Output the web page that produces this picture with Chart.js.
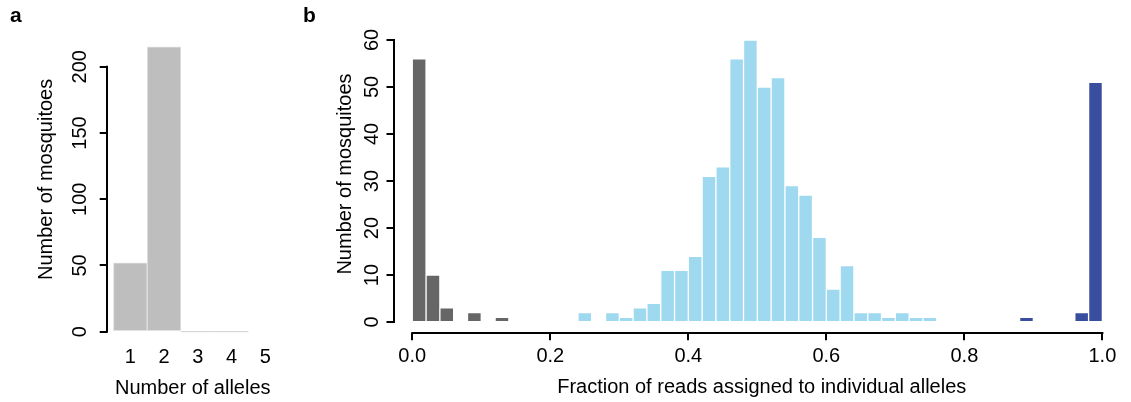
<!DOCTYPE html>
<html>
<head>
<meta charset="utf-8">
<script src="https://cdn.jsdelivr.net/npm/chart.js@4.4.1/dist/chart.umd.min.js"></script>
<style>
  body { margin: 0; background: #fff; }
  #wrap { position: relative; width: 1131px; height: 402px; overflow: hidden; }
  canvas { position: absolute; top: 0; }
  #chartA { left: 0; }
  #chartB { left: 300px; }
  .panel-tag { position: absolute; top: 4px; font: bold 21px "Liberation Sans", Arial, sans-serif; line-height: 21px; color: #000; }
</style>
</head>
<body>
<div id="wrap">
  <canvas id="chartA" width="300" height="402"></canvas>
  <canvas id="chartB" width="831" height="402"></canvas>
  <div class="panel-tag" style="left:10px">a</div>
  <div class="panel-tag" style="left:303px">b</div>
</div>
<script>
// panel a: alleles per mosquito
const alleleCounts = [1, 2, 3, 4, 5];
const mosquitoesPerAllele = [52, 215, 0, 0, null];

// panel b: histogram of read fractions (bin centres, bin width 0.02)
const homBinsLow = [0.01, 0.03, 0.05, 0.09, 0.13];
const homCountsLow = [56, 10, 3, 2, 1];
const hetBins = [0.25, 0.29, 0.31, 0.33, 0.35, 0.37, 0.39, 0.41, 0.43, 0.45, 0.47, 0.49, 0.51,
                 0.53, 0.55, 0.57, 0.59, 0.61, 0.63, 0.65, 0.67, 0.69, 0.71, 0.73, 0.75];
const hetCounts = [2, 2, 1, 3, 4, 11, 11, 14, 31, 33, 56, 60, 50, 52, 29, 27, 18, 7, 12, 2, 2, 1, 2, 1, 1];
const homBinsHigh = [0.89, 0.97, 0.99];
const homCountsHigh = [1, 2, 51];

Chart.defaults.font.family = '"Liberation Sans", Arial, sans-serif';
Chart.defaults.font.size = 20;
Chart.defaults.color = '#000';

const toPoints = (xs, ys) => xs.map((x, i) => ({ x: x, y: ys[i] }));

// R style axis line: only from first to last tick
const rAxisLines = {
    id: 'rAxisLines',
    afterDraw(chart, args, opts) {
        const ctx = chart.ctx;
        const area = chart.chartArea;
        ctx.save();
        ctx.strokeStyle = '#000';
        ctx.lineWidth = 2;
        ctx.lineCap = 'square';
        (opts.axes || []).forEach(id => {
            const s = chart.scales[id];
            const first = s.getPixelForValue(s.ticks[0].value);
            const last = s.getPixelForValue(s.ticks[s.ticks.length - 1].value);
            ctx.beginPath();
            if (s.isHorizontal()) {
                ctx.moveTo(first, Math.round(area.bottom));
                ctx.lineTo(last, Math.round(area.bottom));
            } else {
                ctx.moveTo(Math.round(area.left), first);
                ctx.lineTo(Math.round(area.left), last);
            }
            ctx.stroke();
        });
        ctx.restore();
    }
};

const tickGrid = { display: true, offset: false, drawOnChartArea: false, drawTicks: true, tickLength: 7, color: '#000', lineWidth: 2 };

new Chart(document.getElementById('chartA'), {
    type: 'bar',
    data: {
        datasets: [{
            data: toPoints(alleleCounts, mosquitoesPerAllele),
            backgroundColor: '#BEBEBE',
            borderColor: '#E2E2E2',
            borderWidth: 1,
            borderSkipped: false,
            minBarLength: 1,
            barPercentage: 1,
            categoryPercentage: 1
        }]
    },
    plugins: [rAxisLines],
    options: {
        responsive: false,
        animation: false,
        devicePixelRatio: 1,
        layout: { padding: { top: 15.7, right: 21.2, left: 0, bottom: 0 } },
        plugins: { legend: { display: false }, tooltip: { enabled: false }, rAxisLines: { axes: ['y'] } },
        scales: {
            x: {
                type: 'linear',
                offset: false,
                min: 0.3,
                max: 5.403,
                grid: { display: false, drawTicks: false },
                border: { display: false },
                ticks: { stepSize: 1, includeBounds: false, padding: 2.3 },
                title: { display: true, text: 'Number of alleles', padding: { top: 0, bottom: 1.9 } },
                afterFit: s => { s.height = 58.9; }
            },
            y: {
                min: -8.6,
                max: 238.5,
                grid: tickGrid,
                border: { display: false },
                ticks: { stepSize: 50, includeBounds: false, minRotation: 90, maxRotation: 90, crossAlign: 'center', padding: 2.3 },
                title: { display: true, text: 'Number of mosquitoes', padding: { top: 34.4, bottom: 0 } },
                afterFit: s => { s.width = 106.7; }
            }
        }
    }
});

const histSet = (xs, ys, colour) => ({
    data: toPoints(xs, ys),
    backgroundColor: colour,
    borderColor: 'rgba(255,255,255,0.85)',
    borderWidth: 1,
    borderSkipped: 'start',
    grouped: false,
    barPercentage: 1,
    categoryPercentage: 1
});

new Chart(document.getElementById('chartB'), {
    type: 'bar',
    data: {
        datasets: [
            histSet(homBinsLow, homCountsLow, '#666666'),
            histSet(hetBins, hetCounts, '#9ED9EF'),
            histSet(homBinsHigh, homCountsHigh, '#3A4EA0')
        ]
    },
    plugins: [rAxisLines],
    options: {
        responsive: false,
        animation: false,
        devicePixelRatio: 1,
        layout: { padding: { top: 14.7, right: 1, left: 0, bottom: 0 } },
        plugins: { legend: { display: false }, tooltip: { enabled: false }, rAxisLines: { axes: ['x', 'y'] } },
        scales: {
            x: {
                type: 'linear',
                offset: false,
                min: -0.0272,
                max: 1.04,
                grid: tickGrid,
                border: { display: false },
                ticks: { stepSize: 0.2, includeBounds: false, padding: 4.4, callback: v => v.toFixed(1) },
                title: { display: true, text: 'Fraction of reads assigned to individual alleles', padding: { top: 0, bottom: 2.6 } },
                afterFit: s => { s.height = 68.7; }
            },
            y: {
                min: -2.4,
                max: 65.38,
                grid: tickGrid,
                border: { display: false },
                ticks: { stepSize: 10, includeBounds: false, minRotation: 90, maxRotation: 90, crossAlign: 'center', padding: 2.7 },
                title: { display: true, text: 'Number of mosquitoes', padding: { top: 33, bottom: 0 } },
                afterFit: s => { s.width = 93.5; }
            }
        }
    }
});
</script>
</body>
</html>
